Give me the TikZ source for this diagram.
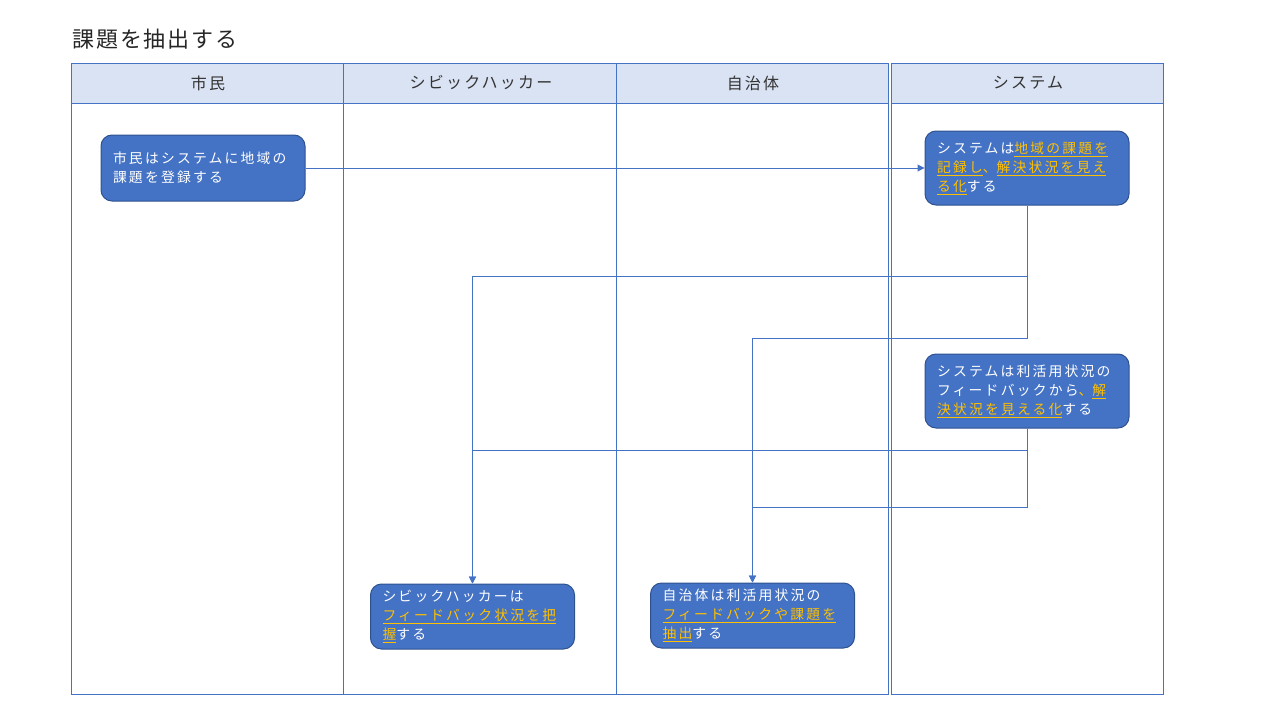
\documentclass[tikz,border=0pt]{standalone}
\usepackage{fontspec}
\setmainfont{Noto Sans CJK JP}
\newfontfamily\boxfont[LetterSpace=16]{Noto Sans CJK JP}
\newfontfamily\hdrfont[LetterSpace=14]{Noto Sans CJK JP}
\newfontfamily\titlefont[LetterSpace=8]{Noto Sans CJK JP}
\usetikzlibrary{arrows.meta}
\definecolor{boxblue}{HTML}{4472C4}
\definecolor{boxedge}{HTML}{2F528F}
\definecolor{hdr}{HTML}{DAE3F3}
\definecolor{gold}{HTML}{FFC000}
\newcommand{\hlt}[1]{\textcolor{gold}{\underline{#1}}}
\begin{document}
\begin{tikzpicture}[x=1pt,y=-1pt,
  lane/.style={draw=boxblue,line width=1pt},
  hdrbox/.style={draw=boxblue,fill=hdr,line width=1pt},
  hdrtext/.style={font=\hdrfont\fontsize{16}{19}\selectfont,text=black!80},
  task/.style={rectangle,rounded corners=11pt,fill=boxblue,draw=boxedge,line width=1pt,
    text=white,align=left,text width=180pt,inner xsep=12pt,inner ysep=4pt,
    minimum width=204pt,font=\boxfont\fontsize{13.8}{19}\selectfont},
  conn/.style={draw=boxblue,line width=1pt,-{Triangle[length=7pt,width=7pt]}},
  line/.style={draw=boxblue,line width=1pt}]
\useasboundingbox (0,0) rectangle (1280,720);
\node[anchor=west,font=\titlefont\fontsize{22}{26}\selectfont,text=black!85] (title) at (69,39) {課題を抽出する};
% pool 1
\draw[hdrbox] (71,63) rectangle (888,103);
\draw[lane] (71,63) rectangle (888,694);
\draw[lane] (343,63) -- (343,694);
\draw[lane] (616,63) -- (616,694);
% pool 2
\draw[hdrbox] (891,63) rectangle (1163,103);
\draw[lane] (891,63) rectangle (1163,694);
\node[hdrtext] (h1) at (208,83) {市民};
\node[hdrtext] (h2) at (481,83) {シビックハッカー};
\node[hdrtext] (h3) at (753,83) {自治体};
\node[hdrtext] (h4) at (1028,83) {システム};
% tasks
\node[task,minimum height=66pt] (citizen) at (203,168) {市民はシステムに地域の\\課題を登録する};
\node[task,minimum height=74pt] (sys1) at (1027,168) {システムは\hlt{地域の課題を}\\\hlt{記録し}\textcolor{gold}{、}\hlt{解決状況を見え}\\\hlt{る化}する};
\node[task,minimum height=74pt] (sys2) at (1027,391) {システムは利活用状況の\\フィードバックから\textcolor{gold}{、}\hlt{解}\\\hlt{決状況を見える化}する};
\node[task,minimum height=65pt] (civic) at (472.5,616.5) {シビックハッカーは\\\hlt{フィードバック状況を把}\\\hlt{握}する};
\node[task,minimum height=65pt] (gov) at (752.5,615.5) {自治体は利活用状況の\\\hlt{フィードバックや課題を}\\\hlt{抽出}する};
% connectors
\draw[conn] (citizen.east) -- (sys1.west);
\coordinate (a1) at (1027,276);
\coordinate (a2) at (1027,338);
\coordinate (b1) at (1027,450);
\coordinate (b2) at (1027,507);
\draw[conn] (sys1.south) -- (a1) -| (civic.north);
\draw[conn] (sys1.south) -- (a2) -| (gov.north);
\draw[conn] (sys2.south) -- (b1) -| (civic.north);
\draw[conn] (sys2.south) -- (b2) -| (gov.north);
\end{tikzpicture}
\end{document}
